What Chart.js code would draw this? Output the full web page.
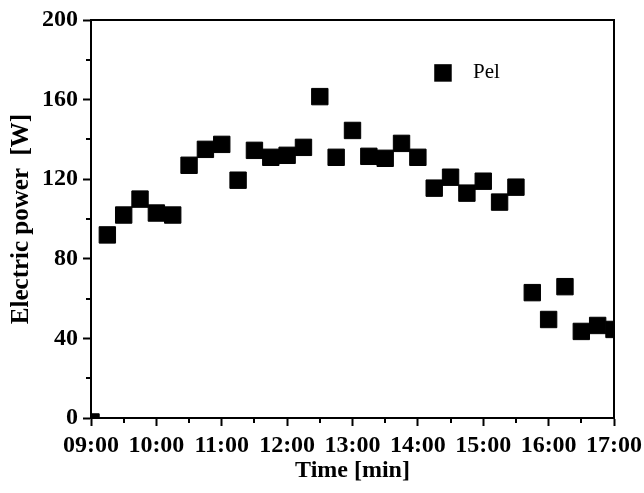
<!DOCTYPE html>
<html>
<head>
<meta charset="utf-8">
<script src="https://cdn.jsdelivr.net/npm/chart.js@4.4.1/dist/chart.umd.min.js"></script>
<style>
  html, body { margin: 0; padding: 0; background: #fff; }
  #wrap { width: 644px; height: 493px; position: relative; }
</style>
</head>
<body>
<div id="wrap"><canvas id="c" width="644" height="493"></canvas></div>
<script>
// ---- data ----
const times = ['09:00','09:15','09:30','09:45','10:00','10:15','10:30','10:45','11:00','11:15','11:30','11:45',
               '12:00','12:15','12:30','12:45','13:00','13:15','13:30','13:45','14:00','14:15','14:30','14:45',
               '15:00','15:15','15:30','15:45','16:00','16:15','16:30','16:45','17:00'];
const pel = [-2, 92, 102, 110, 103, 102, 127, 135, 137.5, 119.5, 134.5, 131, 132, 136, 161.5, 131, 144.5, 131.5,
             130.5, 138, 131, 115.5, 121, 113, 119, 108.5, 116, 63, 49.5, 66, 43.5, 46.5, 44.5];
const seriesLabel = 'Pel';
const xTitle = 'Time [min]';
const yTitle = 'Electric power  [W]';
const xRange = ['09:00', '17:00'];
const yRange = [0, 200];

const toMin = s => { const [h, m] = s.split(':').map(Number); return h * 60 + m; };
const fmt = v => { const h = Math.floor(v / 60), m = Math.round(v % 60); return String(h).padStart(2, '0') + ':' + String(m).padStart(2, '0'); };

const FONT = '"Liberation Serif", "Times New Roman", serif';

const framePlugin = {
  id: 'frame',
  afterDatasetsDraw(chart) {
    const { ctx, chartArea: a, scales } = chart;
    ctx.save();
    ctx.strokeStyle = '#000';
    ctx.lineWidth = 2;
    ctx.strokeRect(a.left, a.top, a.right - a.left, a.bottom - a.top);
    // minor ticks
    ctx.beginPath();
    const xs = scales.x;
    for (let v = toMin(xRange[0]) + 30; v < toMin(xRange[1]); v += 60) {
      const px = Math.round(xs.getPixelForValue(v));
      ctx.moveTo(px, a.bottom); ctx.lineTo(px, a.bottom + 5);
    }
    const ys = scales.y;
    for (let v = yRange[0] + 20; v < yRange[1]; v += 40) {
      const py = Math.round(ys.getPixelForValue(v));
      ctx.moveTo(a.left, py); ctx.lineTo(a.left - 5, py);
    }
    ctx.stroke();
    // legend
    const lx = a.left + 0.673 * (a.right - a.left);
    const ly = a.top + 0.133 * (a.bottom - a.top);
    ctx.fillStyle = '#000';
    ctx.fillRect(lx - 8.75, ly - 8.75, 17.5, 17.5);
    ctx.font = '21px ' + FONT;
    ctx.textBaseline = 'middle';
    ctx.textAlign = 'left';
    ctx.fillText(chart.data.datasets[0].label, lx + 30, ly);
    ctx.restore();
  }
};

new Chart(document.getElementById('c'), {
  type: 'scatter',
  data: {
    datasets: [{
      label: seriesLabel,
      data: times.map((t, i) => ({ x: toMin(t), y: pel[i] })),
      pointStyle: 'rect',
      pointRadius: 11.6,
      pointHoverRadius: 11.6,
      pointBorderWidth: 1,
      backgroundColor: '#000',
      borderColor: '#000',
      clip: 0
    }]
  },
  options: {
    responsive: false,
    animation: false,
    events: [],
    layout: { padding: { top: 20, right: 30, left: 0, bottom: 0 } },
    plugins: { legend: { display: false }, tooltip: { enabled: false } },
    scales: {
      x: {
        type: 'linear',
        min: toMin(xRange[0]), max: toMin(xRange[1]),
        afterFit(s) { s.height = 75; s.paddingLeft = 0; s.paddingRight = 0; },
        border: { display: true, color: '#000', width: 2 },
        grid: { drawOnChartArea: false, tickLength: 8, tickWidth: 2, tickColor: '#000', color: '#000' },
        ticks: { stepSize: 60, padding: 5, color: '#000', maxRotation: 0, autoSkip: false,
                 font: { family: FONT, size: 24, weight: 'bold' }, callback: v => fmt(v) },
        title: { display: true, text: xTitle, color: '#000', padding: { top: 0, bottom: 8 },
                 font: { family: FONT, size: 24, weight: 'bold' } }
      },
      y: {
        min: yRange[0], max: yRange[1],
        afterFit(s) { s.width = 91; s.paddingTop = 0; s.paddingBottom = 0; },
        border: { display: true, color: '#000', width: 2 },
        grid: { drawOnChartArea: false, tickLength: 8, tickWidth: 2, tickColor: '#000', color: '#000' },
        ticks: { stepSize: 40, padding: 5, color: '#000',
                 font: { family: FONT, size: 24, weight: 'bold' } },
        title: { display: true, text: yTitle, color: '#000', padding: { top: 7, bottom: 0 },
                 font: { family: FONT, size: 25, weight: 'bold' } }
      }
    }
  },
  plugins: [framePlugin]
});
</script>
</body>
</html>
